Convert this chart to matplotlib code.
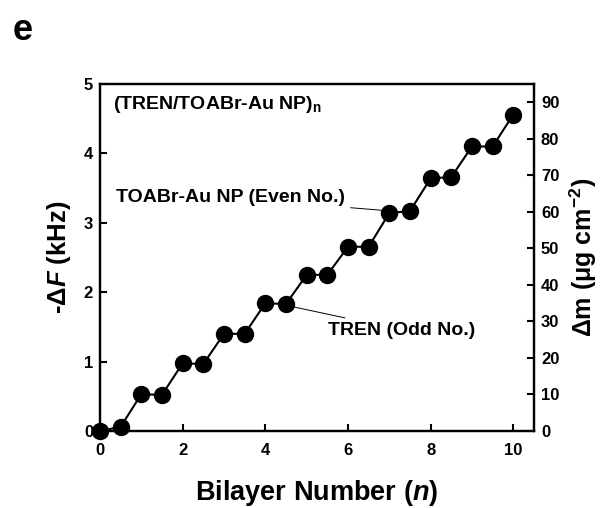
import numpy as np
import matplotlib.pyplot as plt

plt.rcParams['font.family'] = ['Liberation Sans', 'DejaVu Sans']
plt.rcParams['mathtext.fontset'] = 'custom'
plt.rcParams['mathtext.rm'] = 'Liberation Sans:bold'
plt.rcParams['mathtext.it'] = 'Liberation Sans:bold:italic'
plt.rcParams['mathtext.bf'] = 'Liberation Sans:bold'

# QCM frequency shift after each half-bilayer
bilayer = [0, 0.5, 1, 1.5, 2, 2.5, 3, 3.5, 4, 4.5, 5,
           5.5, 6, 6.5, 7, 7.5, 8, 8.5, 9, 9.5, 10]
dF = [0.0, 0.06, 0.53, 0.52, 0.975, 0.965, 1.40, 1.40, 1.84, 1.83, 2.25,
      2.25, 2.655, 2.655, 3.14, 3.17, 3.64, 3.66, 4.10, 4.10, 4.56]

x_ticks = [0, 2, 4, 6, 8, 10]
y_ticks = [0, 1, 2, 3, 4, 5]
mass_ticks = [0, 10, 20, 30, 40, 50, 60, 70, 80, 90]

fig = plt.figure(figsize=(6.07, 5.08), dpi=100)
ax = fig.add_axes([0.1647, 0.1516, 0.715, 0.683])

ax.plot(bilayer, dF, '-o', color='black', lw=1.5, ms=11.5,
        mfc='black', mec='black', clip_on=False, zorder=3)

ax.set_xlim(0, 10.5)
ax.set_ylim(0, 5)
ax.set_xticks(x_ticks)
ax.set_yticks(y_ticks)

ax2 = ax.twinx()
ax2.set_ylim(0, 95)
ax2.set_yticks(mass_ticks)

for a in (ax, ax2):
    for s in a.spines.values():
        s.set_linewidth(1.6)
    a.tick_params(direction='in', length=5, width=1.5, labelsize=12, pad=5)
    for lab in a.get_xticklabels() + a.get_yticklabels():
        lab.set_fontweight('bold')
ax.tick_params(axis='x', pad=9)

ax.set_xlabel('Bilayer Number ($\\mathit{n}$)', fontsize=19.5, fontweight='bold', labelpad=14)
ax.set_ylabel('-$\\Delta\\mathit{F}$ (kHz)', fontsize=18.5, fontweight='bold', labelpad=8)
ax2.set_ylabel('$\\Delta$m (\u03bcg cm$^{-2}$)', fontsize=18, fontweight='bold', labelpad=6)

ax.text(0.31, 4.70, '(TREN/TOABr-Au NP)$_\\mathregular{n}$', fontsize=14,
        fontweight='bold', va='center', ha='left')

ax.annotate('TOABr-Au NP (Even No.)', xy=(6.83, 3.18), xytext=(5.93, 3.36),
            fontsize=14, fontweight='bold', ha='right', va='center',
            arrowprops=dict(arrowstyle='-', color='black', lw=0.7,
                            shrinkA=2, shrinkB=0))
ax.annotate('TREN (Odd No.)', xy=(4.67, 1.79), xytext=(5.52, 1.455),
            fontsize=14, fontweight='bold', ha='left', va='center',
            arrowprops=dict(arrowstyle='-', color='black', lw=0.7,
                            shrinkA=3, shrinkB=0))

fig.text(0.02, 0.94, 'e', fontsize=26, fontweight='bold', va='center')

fig.savefig('out.png', dpi=100)
